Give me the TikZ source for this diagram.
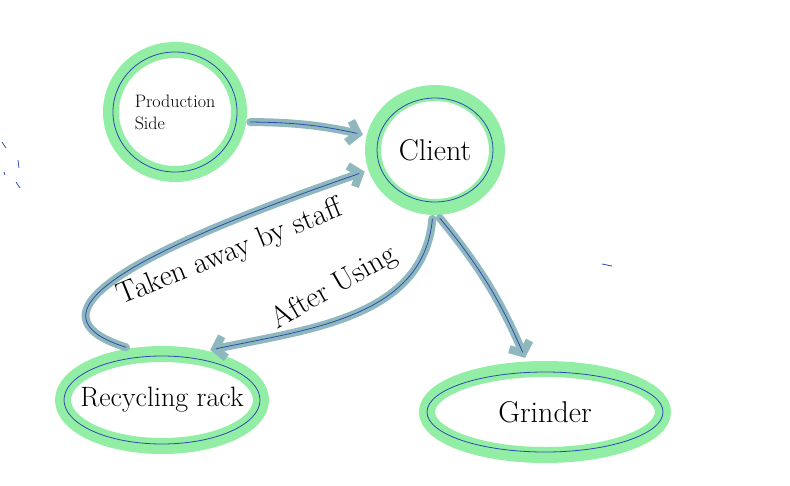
\documentclass[tikz,border=0pt]{standalone}
\usetikzlibrary{shapes.geometric,arrows.meta}
\definecolor{ringgreen}{RGB}{146,238,164}
\definecolor{connteal}{RGB}{143,184,190}
\definecolor{inkblue}{RGB}{45,75,175}
\newcommand{\penfont}[1]{\fontsize{#1}{#1}\selectfont}
\tikzset{
  ring/.style={ellipse, draw=ringgreen, line width=16pt, inner sep=0pt, font=\penfont{30}},
  ink/.style={draw=inkblue, line width=0.8pt},
  conn/.style={draw=connteal, line width=8pt, line cap=round,
    -{Straight Barb[length=9pt,width=22pt]}, shorten >=4pt, shorten <=4pt,
    postaction={draw=inkblue, line width=0.8pt, -, shorten >=10pt}},
  tag/.style={font=\penfont{30}, inner sep=1pt}
}
\begin{document}
\begin{tikzpicture}[x=1pt, y=-1pt]
  \useasboundingbox (0,0) rectangle (790,485);

  % stations
  \node[ring, minimum width=128pt, minimum height=124pt, align=left, font=\penfont{18}] (prod) at (175,112) {Production\\[4pt]Side};
  \node[ring, minimum width=124pt, minimum height=114pt] (client) at (435,150) {Client};
  \node[ring, minimum width=198pt, minimum height=92pt, inner xsep=-40pt, font=\penfont{28}] (rack) at (162,400) {Recycling rack};
  \node[ring, minimum width=236pt, minimum height=86pt] (grinder) at (545,412) {Grinder};

  % inner pen rings
  \draw[ink] (prod.center) ellipse [x radius=62, y radius=60];
  \draw[ink] (client.center) ellipse [x radius=58, y radius=52];
  \draw[ink] (rack.center) ellipse [x radius=98, y radius=44];
  \draw[ink] (grinder.center) ellipse [x radius=118, y radius=40];

  % flows
  \draw[conn] (prod.-8) to[bend left=6] (client.168);
  \draw[conn] (client.-88) to[bend left=8] (grinder.110);
  \draw[conn] (client.-92) to[out=-95, in=12] (rack.48);
  \draw[conn] (rack.122) .. controls (40,320) and (80,270) .. (client.197);

  % labels
  \node[tag, rotate=22] (staff) at (230,253) {Taken away by staff};
  \node[tag, rotate=30] (after) at (334,288) {After Using};

  % stray pen marks
  \draw[ink] (2,142) -- (6,148) (18,160) -- (19,168) (16,182) -- (20,188) (4,172) -- (5,175);
  \draw[ink] (602,264) -- (612,266);
\end{tikzpicture}
\end{document}
